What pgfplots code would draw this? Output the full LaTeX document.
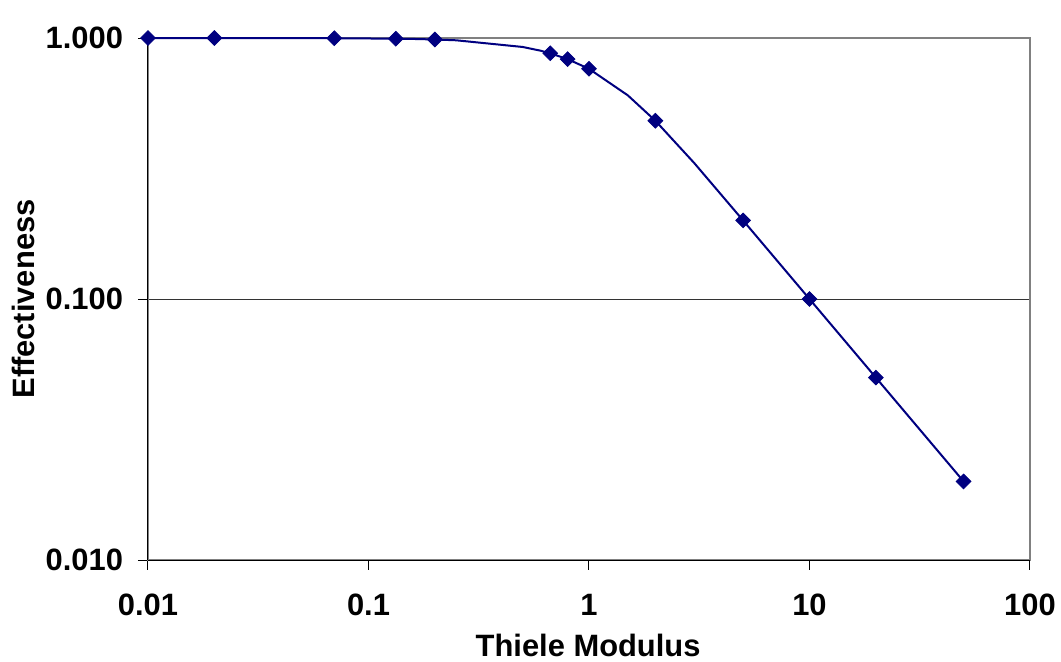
\documentclass[border=0pt]{standalone}
\usepackage{fontspec}
\setmainfont{Liberation Sans}
\usepackage{pgfplots}
\pgfplotsset{compat=1.18}
\definecolor{navyline}{HTML}{000080}
\definecolor{bordergray}{HTML}{808080}

% effectiveness factor vs Thiele modulus
\pgfplotstableread{
x y
0.01 1.000
0.02 1.000
0.07 0.998
0.133 0.994
0.15 0.993
0.2 0.987
0.25 0.980
0.5 0.924
0.6 0.895
0.667 0.874
0.8 0.830
1 0.762
1.5 0.603
2 0.482
3 0.332
5 0.200
10 0.100
20 0.050
50 0.020
}\curvedata

\pgfplotstableread{
x y
0.01 1.000
0.02 1.000
0.07 0.998
0.133 0.994
0.2 0.987
0.667 0.874
0.8 0.830
1 0.762
2 0.482
5 0.200
10 0.100
20 0.050
50 0.020
}\markdata

\begin{document}
\begin{tikzpicture}
\begin{axis}[
    scale only axis,
    width=441bp, height=261bp,
    xmode=log, ymode=log,
    xmin=0.01, xmax=100, ymin=0.01, ymax=1,
    xtick={0.01,0.1,1,10,100},
    xticklabels={0.01,0.1,1,10,100},
    ytick={0.01,0.1,1},
    yticklabels={0.010,0.100,1.000},
    xminorticks=false, yminorticks=false,
    tick align=outside,
    xtick pos=left, ytick pos=left,
    major tick length=5bp,
    tick style={black, line width=0.5bp},
    ymajorgrids,
    grid style={black!80, line width=0.5bp},
    axis line style={bordergray, line width=1bp},
    ticklabel style={font=\fontsize{15.5}{18}\selectfont\bfseries},
    yticklabel style={xshift=-4bp},
    xticklabel style={yshift=-8.5bp},
    label style={font=\fontsize{15.5}{18}\selectfont\bfseries},
    xlabel={Thiele Modulus},
    ylabel={Effectiveness},
    xlabel style={at={(axis description cs:0.499,-0.163)}, anchor=center},
    ylabel style={at={(axis description cs:-0.141,0.5)}, anchor=center},
    clip=false,
]
\addplot[navyline, line width=1bp] table[x=x, y=y] {\curvedata};
\addplot[only marks, mark=square*, mark size=2.6bp,
    mark options={rotate=45, fill=navyline, draw=navyline}] table[x=x, y=y] {\markdata};
\draw[black, line width=0.5bp] (rel axis cs:0,0) -- (rel axis cs:0,1);
\draw[black, line width=0.5bp] (rel axis cs:0,0) -- (rel axis cs:1,0);
\end{axis}
\pgfresetboundingbox
\path (-74bp,-51bp) rectangle (456.5bp,280bp);
\end{tikzpicture}
\end{document}
